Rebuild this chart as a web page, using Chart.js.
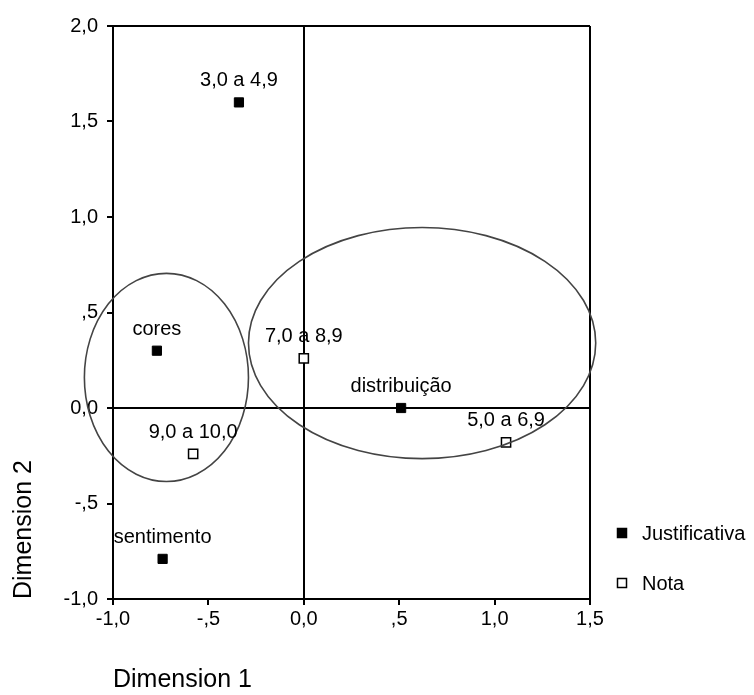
<!DOCTYPE html>
<html>
<head>
<meta charset="utf-8">
<script src="https://cdn.jsdelivr.net/npm/chart.js@4.4.1/dist/chart.umd.min.js"></script>
<style>
  html, body { margin: 0; padding: 0; background: #fff; }
  #wrap { width: 754px; height: 695px; }
</style>
</head>
<body>
<div id="wrap"><canvas id="chart" width="754" height="695"></canvas></div>
<script>
const FONT = '"Liberation Sans", Arial, sans-serif';

const xTickLabels = ['-1,0', '-,5', '0,0', ',5', '1,0', '1,5'];
const yTickLabels = ['-1,0', '-,5', '0,0', ',5', '1,0', '1,5', '2,0'];

// Justificativa (filled squares)
const justLabels = ['3,0 a 4,9', 'cores', 'distribuição', 'sentimento'];
const justX = [-0.34, -0.77, 0.51, -0.74];
const justY = [1.60, 0.30, 0.00, -0.79];

// Nota (open squares)
const notaLabels = ['7,0 a 8,9', '9,0 a 10,0', '5,0 a 6,9'];
const notaX = [0.00, -0.58, 1.06];
const notaY = [0.26, -0.24, -0.18];

// group ellipses (center and radii in dimension units)
const ellipseCx = [-0.72, 0.62];
const ellipseCy = [0.16, 0.34];
const ellipseRx = [0.43, 0.91];
const ellipseRy = [0.545, 0.605];

const pointLabels = [justLabels, notaLabels];

const overlay = {
  id: 'overlay',
  afterDatasetsDraw(chart) {
    const ctx = chart.ctx;
    const xs = chart.scales.x, ys = chart.scales.y;
    const area = chart.chartArea;

    // ellipses
    ctx.save();
    ctx.strokeStyle = '#444';
    ctx.lineWidth = 1.6;
    ellipseCx.forEach((cx, i) => {
      const px = xs.getPixelForValue(cx);
      const py = ys.getPixelForValue(ellipseCy[i]);
      const rx = Math.abs(xs.getPixelForValue(cx + ellipseRx[i]) - px);
      const ry = Math.abs(ys.getPixelForValue(ellipseCy[i] + ellipseRy[i]) - py);
      ctx.beginPath();
      ctx.ellipse(px, py, rx, ry, 0, 0, Math.PI * 2);
      ctx.stroke();
    });
    ctx.restore();

    // point labels
    ctx.save();
    ctx.font = '20px ' + FONT;
    ctx.fillStyle = '#000';
    ctx.textAlign = 'center';
    ctx.textBaseline = 'alphabetic';
    chart.data.datasets.forEach((ds, di) => {
      chart.getDatasetMeta(di).data.forEach((pt, i) => {
        ctx.fillText(pointLabels[di][i], pt.x, pt.y - 16);
      });
    });
    ctx.restore();

    // legend
    ctx.save();
    ctx.font = '20px ' + FONT;
    ctx.textAlign = 'left';
    ctx.textBaseline = 'middle';
    chart.data.datasets.forEach((ds, di) => {
      const cy = area.bottom - 66 + di * 50;
      const bx = area.right + 32;
      ctx.fillStyle = ds.backgroundColor;
      ctx.strokeStyle = ds.borderColor;
      ctx.lineWidth = 1.5;
      ctx.fillRect(bx - 4.5, cy - 4.5, 9, 9);
      ctx.strokeRect(bx - 4.5, cy - 4.5, 9, 9);
      ctx.fillStyle = '#000';
      ctx.fillText(ds.label, area.right + 52, cy + 1);
    });
    ctx.restore();
  }
};

function lineColor(edge) {
  return (c) => (c.tick && (c.tick.value === 0 || c.tick.value === edge)) ? '#000' : 'rgba(0,0,0,0)';
}

new Chart(document.getElementById('chart'), {
  type: 'scatter',
  data: {
    datasets: [
      {
        label: 'Justificativa',
        data: justX.map((x, i) => ({ x: x, y: justY[i] })),
        pointStyle: 'rect',
        pointRadius: 6.5,
        backgroundColor: '#000',
        borderColor: '#000',
        borderWidth: 1
      },
      {
        label: 'Nota',
        data: notaX.map((x, i) => ({ x: x, y: notaY[i] })),
        pointStyle: 'rect',
        pointRadius: 6.5,
        backgroundColor: '#fff',
        borderColor: '#000',
        borderWidth: 1.5
      }
    ]
  },
  options: {
    responsive: false,
    animation: false,
    events: [],
    devicePixelRatio: 1,
    layout: { padding: { top: 26, right: 164, left: 0, bottom: 0 } },
    plugins: {
      legend: { display: false },
      tooltip: { enabled: false }
    },
    scales: {
      x: {
        type: 'linear',
        min: -1,
        max: 1.5,
        afterFit: s => { s.height = 96; },
        ticks: {
          stepSize: 0.5,
          callback: (v, i) => xTickLabels[i],
          color: '#000',
          font: { size: 20, family: FONT },
          padding: 2,
          maxRotation: 0
        },
        grid: { color: lineColor(1.5), tickColor: '#000', tickLength: 6, lineWidth: 2 },
        border: { color: '#000', width: 2 },
        title: {
          display: true,
          text: 'Dimension 1',
          align: 'start',
          color: '#000',
          font: { size: 25, family: FONT },
          padding: { top: 0, bottom: 0 }
        }
      },
      y: {
        type: 'linear',
        min: -1,
        max: 2,
        afterFit: s => { s.width = 113; },
        ticks: {
          stepSize: 0.5,
          callback: (v, i) => yTickLabels[i],
          color: '#000',
          font: { size: 20, family: FONT },
          padding: 9
        },
        grid: { color: lineColor(2), tickColor: '#000', tickLength: 6, lineWidth: 2 },
        border: { color: '#000', width: 2 },
        title: {
          display: true,
          text: 'Dimension 2',
          align: 'start',
          color: '#000',
          font: { size: 25, family: FONT },
          padding: { top: 9, bottom: 0 }
        }
      }
    }
  },
  plugins: [overlay]
});
</script>
</body>
</html>
